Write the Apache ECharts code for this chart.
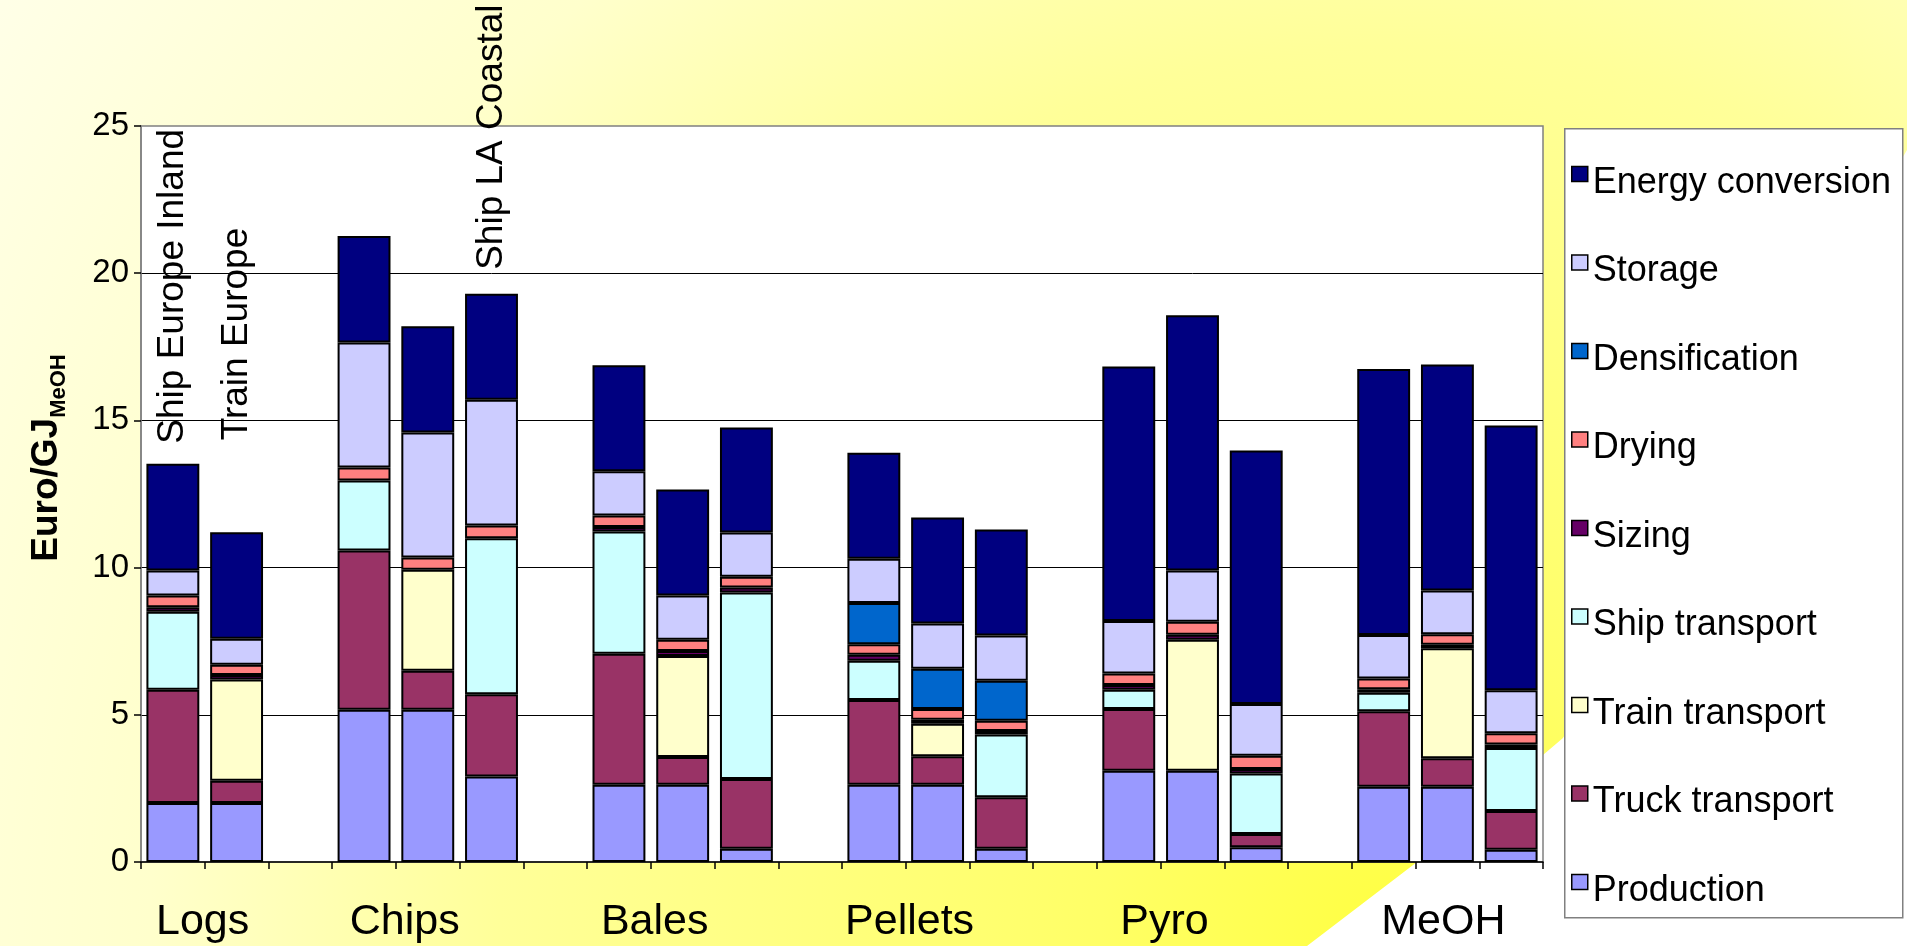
<!DOCTYPE html>
<html>
<head>
<meta charset="utf-8">
<script src="https://cdn.jsdelivr.net/npm/echarts/dist/echarts.min.js"></script>
<style>
html, body { margin:0; padding:0; width:1907px; height:946px; overflow:hidden; }
body { background: radial-gradient(circle at 1400px 946px, #FFFF40 0px, #FFFF66 300px, #FFFF99 900px, #FFFFCC 1250px, #FFFFE8 1700px); }
#cut { position:absolute; left:0; top:0; width:1907px; height:946px; background:#ffffff;
  clip-path: polygon(1307px 946px, 1417px 862px, 1563px 738px, 1907px 150px, 1907px 946px); }
#chart { position:absolute; left:0; top:0; width:1907px; height:946px; }
</style>
</head>
<body>
<div id="cut"></div>
<div id="chart"></div>
<script>
// ---- data ----
const categories = ['Logs A','Logs B','Logs C','Chips A','Chips B','Chips C','gap 1',
  'Bales A','Bales B','Bales C','gap 2','Pellets A','Pellets B','Pellets C','gap 3',
  'Pyro A','Pyro B','Pyro C','gap 4','MeOH A','MeOH B','MeOH C'];
const tickLabels = ['','Logs','','','Chips','','','','Bales','','','','Pellets','','','','Pyro','','','','MeOH',''];

const production    = [2.0, 2.0, null, 5.17, 5.17, 2.9, null, 2.62, 2.62, 0.45, null, 2.62, 2.62, 0.45, null, 3.1, 3.1, 0.5, null, 2.56, 2.56, 0.42];
const truck         = [3.85, 0.76, null, 5.41, 1.33, 2.8, null, 4.45, 0.95, 2.37, null, 2.88, 0.97, 1.75, null, 2.1, null, 0.45, null, 2.56, 0.96, 1.31];
const train         = [null, 3.44, null, null, 3.43, null, null, null, 3.43, null, null, null, 1.11, null, null, null, 4.45, null, null, null, 3.74, null];
const ship          = [2.65, null, null, 2.38, null, 5.3, null, 4.16, null, 6.33, null, 1.34, null, 2.13, null, 0.65, null, 2.06, null, 0.63, null, 2.14];
const sizing        = [0.15, 0.15, null, null, null, null, null, 0.15, 0.17, 0.17, null, 0.2, 0.13, 0.12, null, 0.16, 0.17, 0.15, null, 0.12, 0.12, 0.12];
const drying        = [0.4, 0.35, null, 0.44, 0.41, 0.43, null, 0.39, 0.38, 0.37, null, 0.36, 0.37, 0.35, null, 0.39, 0.44, 0.45, null, 0.36, 0.36, 0.38];
const densification = [null, null, null, null, null, null, null, null, null, null, null, 1.4, 1.36, 1.36, null, null, null, null, null, null, null, null];
const storage       = [0.85, 0.88, null, 4.25, 4.25, 4.27, null, 1.5, 1.5, 1.5, null, 1.5, 1.54, 1.53, null, 1.79, 1.74, 1.76, null, 1.48, 1.48, 1.46];
const energy        = [3.63, 3.62, null, 3.61, 3.61, 3.6, null, 3.6, 3.6, 3.57, null, 3.6, 3.6, 3.6, null, 8.64, 8.67, 8.61, null, 9.04, 7.68, 9.0];

const annotationTexts = {0: 'Ship Europe Inland', 1: 'Train Europe', 5: 'Ship LA Coastal'};

// ---- styles ----
const annotationGap = {0: 20, 1: 92, 5: 24};
const labelShift = {Logs: 68, Chips: 46, Bales: 56, Pellets: 56, Pyro: 56, MeOH: 8}; // right padding (px) shifting label left
const FONT = '"Liberation Sans", Arial, sans-serif';

const seriesDefs = [
  ['Production', production, '#9999FF'],
  ['Truck transport', truck, '#993366'],
  ['Train transport', train, '#FFFFCC'],
  ['Ship transport', ship, '#CCFFFF'],
  ['Sizing', sizing, '#660066'],
  ['Drying', drying, '#FF8080'],
  ['Densification', densification, '#0066CC'],
  ['Storage', storage, '#CCCCFF'],
  ['Energy conversion', energy, '#000080']
];

const series = seriesDefs.map(([name, vals, color]) => {
  let data = vals;
  if (name === 'Energy conversion') {
    data = vals.map((v, i) => annotationTexts[i] ? {
      value: v,
      label: {
        show: true, position: 'top', rotate: 90, align: 'left', verticalAlign: 'middle',
        distance: annotationGap[i], formatter: annotationTexts[i],
        fontSize: 37, color: '#000', fontFamily: FONT
      }
    } : v);
  }
  return {
    name, type: 'bar', stack: 'total', data, barWidth: '83%',
    itemStyle: { color, borderColor: '#000', borderWidth: 2 },
    emphasis: { disabled: true },
    animation: false
  };
});

const labelRich = {};
Object.keys(labelShift).forEach(k => {
  labelRich[k] = { fontSize: 43, color: '#000', fontFamily: FONT, padding: [0, labelShift[k], 0, 0] };
});

const chart = echarts.init(document.getElementById('chart'), null, { renderer: 'canvas' });
chart.setOption({
  animation: false,
  backgroundColor: 'transparent',
  textStyle: { fontFamily: FONT },
  grid: {
    left: 141, right: 364, top: 126, bottom: 84,
    show: true, backgroundColor: '#ffffff', borderColor: '#808080', borderWidth: 1.5
  },
  graphic: [{
    type: 'rect', left: 1564, top: 128, z: 0,
    shape: { width: 338, height: 789 },
    style: { fill: '#ffffff', stroke: '#808080', lineWidth: 1.5 }
  }],
  legend: {
    orient: 'vertical', left: 1571, top: 147, padding: 0,
    itemWidth: 16, itemHeight: 15, itemGap: 34.5,
    icon: 'rect',
    itemStyle: { borderColor: '#000', borderWidth: 1.5 },
    data: ['Energy conversion','Storage','Densification','Drying','Sizing','Ship transport','Train transport','Truck transport','Production'],
    formatter: n => '{t|' + n + '}',
    textStyle: {
      rich: { t: { fontSize: 36, lineHeight: 40, padding: [18, 0, 0, 0], color: '#000', fontFamily: FONT } }
    },
    selectedMode: false
  },
  xAxis: {
    type: 'category', data: categories,
    axisLine: { lineStyle: { color: '#000', width: 1.5 } },
    axisTick: { show: true, interval: 0, length: 7, lineStyle: { color: '#000', width: 1.5 } },
    axisLabel: {
      interval: 0, margin: 39,
      formatter: (v, i) => tickLabels[i] ? '{' + tickLabels[i] + '|' + tickLabels[i] + '}' : '',
      rich: labelRich
    }
  },
  yAxis: {
    type: 'value', min: 0, max: 25, interval: 5,
    name: '{a|Euro/GJ}{b|MeOH}', nameLocation: 'middle', nameRotate: 90, nameGap: 76,
    nameTextStyle: {
      padding: [0, 0, 0, 72],
      rich: {
        a: { fontSize: 37, fontWeight: 'bold', color: '#000', fontFamily: FONT, lineHeight: 44, verticalAlign: 'bottom' },
        b: { fontSize: 22, fontWeight: 'bold', color: '#000', fontFamily: FONT, lineHeight: 44, verticalAlign: 'bottom', padding: [0, 0, -5, 0] }
      }
    },
    axisLine: { show: true, lineStyle: { color: '#808080', width: 1.5 } },
    axisTick: { show: true, length: 7, lineStyle: { color: '#000', width: 1.5 } },
    axisLabel: { fontSize: 33, color: '#000', margin: 12, fontFamily: FONT },
    splitLine: { show: true, showMinLine: false, showMaxLine: false, lineStyle: { color: '#000', width: 1 } }
  },
  series
});
</script>
</body>
</html>
